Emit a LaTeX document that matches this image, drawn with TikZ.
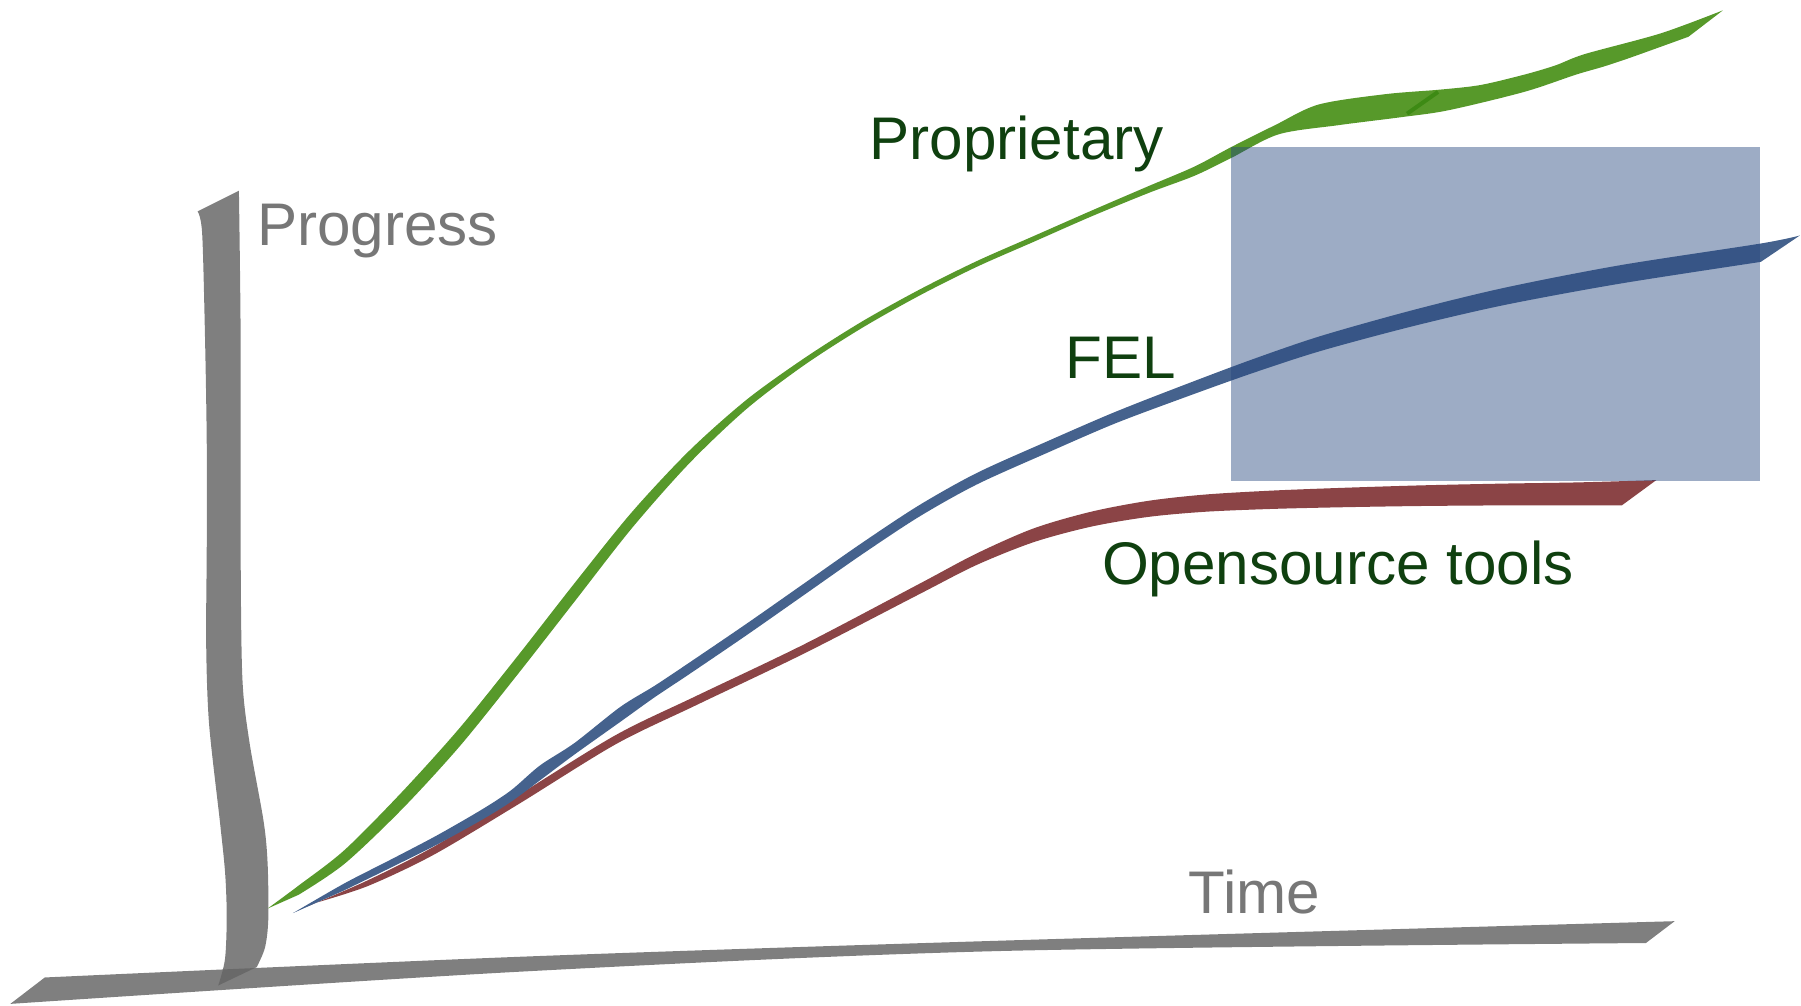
\documentclass[tikz,border=0pt]{standalone}
\usepackage{fontspec}
\setmainfont{Liberation Sans}

\definecolor{axisgray}{HTML}{656565}
\definecolor{axistext}{HTML}{777777}
\definecolor{labelgreen}{HTML}{0F400F}
\definecolor{propgreen}{HTML}{57992A}
\definecolor{seamgreen}{HTML}{3D8A14}
\definecolor{felblue}{HTML}{45628D}
\definecolor{ossred}{HTML}{8B4446}
\definecolor{boxblue}{HTML}{26467E}

\begin{document}
\begin{tikzpicture}[x=0.01cm,y=-0.01cm,
  axisband/.style={fill=axisgray,fill opacity=0.83},
  ribbon/.style={smooth,tension=0.5},
  axislabel/.style={text=axistext,anchor=base west,inner sep=0pt,outer sep=0pt,
    font=\fontsize{14.9pt}{18pt}\selectfont},
  curvelabel/.style={axislabel,text=labelgreen}]

\useasboundingbox (0,0) rectangle (1568,875);

% axes
\fill[axisband] plot[ribbon] coordinates {(39,851) (452,833) (870,819) (1458,802)}
  -- (1433,821) -- plot[ribbon] coordinates {(1433,821) (870,828) (452,846) (9,874)} -- cycle;

\fill[axisband] plot[ribbon] coordinates {(172,184) (176,203) (178.5,294) (180,386) (180,477)
  (179.5,560) (182,630) (191.5,715.6) (196,760) (197.4,798) (195.9,835) (190,858)}
  -- (223.5,842) -- plot[ribbon] coordinates {(223.5,842) (230.7,825) (233.6,800) (233,752)
  (229.5,715) (217,645) (211,590) (209.5,477) (209.5,294) (208,166)} -- cycle;

% opensource tools
\fill[ossred] plot[ribbon] coordinates {(268,789) (320,766.5) (377,737.5) (450,693) (536,640)
  (606,606) (700,561) (800,508.5) (850,482) (900,460) (950,445.5) (1000,436) (1050,430.5)
  (1110,427) (1175,424.5) (1240,422.5) (1310,421) (1373,420) (1442,418)}
  -- (1412,440) -- plot[ribbon] coordinates {(1412,440) (1373,440) (1310,440) (1240,440.5)
  (1175,441.5) (1110,443) (1050,445.5) (1000,450) (950,458.5) (900,472) (850,492) (800,517.5)
  (700,569) (606,614) (536,648) (450,701) (377,744.5) (320,771.5) (275,786)} -- cycle;

% FEL
\fill[felblue] plot[ribbon] coordinates {(255,795) (300,769) (340,748.5) (381,727) (420,704.5)
  (445,688) (470,666.5) (500,647) (540,615.5) (570,597) (600,577) (650,543) (700,508) (750,473)
  (800,440) (850,412) (910,385) (970,359) (1030,335.5) (1090,313) (1150,292.5) (1230,270)
  (1310,250.5) (1410,231) (1533,212) (1567,205)}
  -- (1533,228) -- plot[ribbon] coordinates {(1533,228) (1410,247) (1310,265.5) (1230,284)
  (1150,305.5) (1090,325) (1030,346.5) (970,369) (910,395) (850,422) (800,450) (750,483)
  (700,518) (650,553) (600,587) (570,607) (540,628.5) (500,657) (470,679.5) (445,698)
  (420,713.5) (381,735) (340,755.5) (300,775)} -- cycle;

% proprietary
\fill[propgreen] plot[ribbon] coordinates {(233,791) (260,771) (300,740) (350,689.5) (400,634)
  (450,572) (500,508) (550,446) (600,392.5) (650,348) (700,312) (750,280.2) (800,252.4)
  (850,227.5) (900,205.5) (950,183.5) (1000,162) (1040,145) (1072,128) (1110,109) (1148,91)
  (1206,82) (1254,78) (1289,74) (1327,65) (1354,57) (1380,47) (1446,29) (1500,9)}
  -- (1470,32) -- plot[ribbon] coordinates {(1470,32) (1420,50) (1396,58) (1372,65) (1327,80)
  (1261,96) (1220,102) (1165,109) (1113,117) (1072,137.5) (1040,153) (1000,168) (950,188.5)
  (900,210.5) (850,232.5) (800,257.6) (750,285.8) (700,318) (650,356) (600,403.5) (550,460)
  (500,524) (450,588) (400,650) (350,704.5) (300,752) (260,779)} -- cycle;
\draw[seamgreen,line width=1pt] (1225,99) -- (1252,80);

% focus area
\fill[boxblue,fill opacity=0.45] (1072,128) rectangle (1532,419);

\node[axislabel] (progress) at (224,214) {Progress};
\node[axislabel] (time) at (1035,795.5) {Time};
\node[curvelabel] (proprietary) at (757,138.5) {Proprietary};
\node[curvelabel] (fel) at (928,329.5) {FEL};
\node[curvelabel] (opensrc) at (959.5,508.5) {Opensource tools};
\end{tikzpicture}
\end{document}
